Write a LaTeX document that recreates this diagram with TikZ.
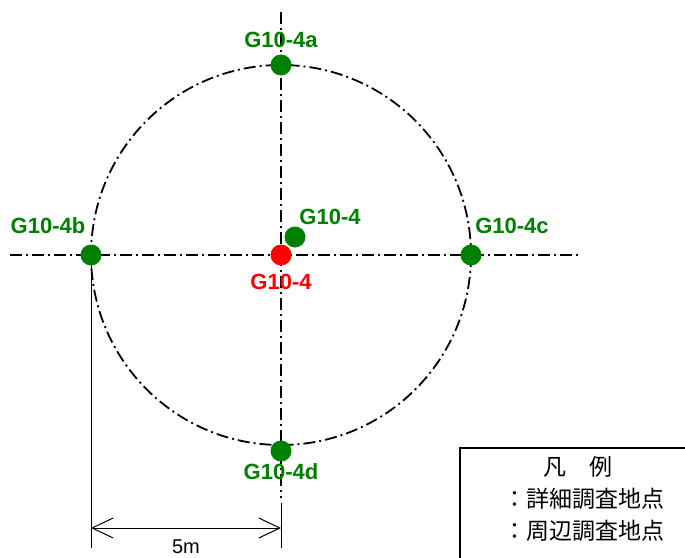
\documentclass[tikz,border=0pt]{standalone}
\usepackage{fontspec}
\setmainfont{Liberation Sans}
\newfontfamily\cjk{Noto Sans CJK JP}
\usetikzlibrary{arrows.meta}
\definecolor{dgreen}{RGB}{0,128,0}
\tikzset{
  axisline/.style={line width=1.8pt, dash pattern=on 12pt off 4pt on 2pt off 4pt},
  gdot/.style={circle, fill=dgreen, minimum size=21pt, inner sep=0pt},
  rdot/.style={circle, fill=red, minimum size=21pt, inner sep=0pt},
  glabel/.style={text=dgreen, font=\fontsize{22}{25}\selectfont\bfseries, inner sep=0pt},
  rlabel/.style={text=red, font=\fontsize{22}{25}\selectfont\bfseries, inner sep=0pt},
  extline/.style={line width=1pt},
  dimline/.style={line width=1pt, {Straight Barb[length=21pt,width=20pt]}-{Straight Barb[length=21pt,width=20pt]}},
  legtext/.style={font=\cjk\fontsize{23}{27}\selectfont, inner sep=0pt, anchor=west}
}
\begin{document}
\begin{tikzpicture}[x=1pt,y=-1pt]
\useasboundingbox (0,0) rectangle (685,557);
% axes
\coordinate (vtop) at (281,12);
\coordinate (vbot) at (281,498);
\coordinate (hl) at (10,255);
\coordinate (hr) at (578,255);
\coordinate (c) at (281,255);
\draw[axisline] (vtop) -- (vbot);
\draw[axisline] (hl) -- (hr);
\draw[axisline] (c) circle[radius=190];
% extension lines
\coordinate (el1) at (91,262);
\coordinate (el2) at (91,548);
\coordinate (er1) at (281,503);
\coordinate (er2) at (281,548);
\draw[extline] (el1) -- (el2);
\draw[extline] (er1) -- (er2);
\coordinate (da) at (91,528);
\coordinate (db) at (281,528);
\draw[dimline] (da) -- (db);
\node[inner sep=0pt, font=\fontsize{20}{24}\selectfont] (dim) at (186,547) {5m};
% dots
\node[gdot] (a) at (281,65) {};
\node[gdot] (b) at (91,255) {};
\node[gdot] (cc) at (471,255) {};
\node[gdot] (d) at (281,451) {};
\node[gdot] (g) at (295,237) {};
\node[rdot] (r) at (281,255) {};
% labels
\node[glabel] (la) at (281,40) {G10-4a};
\node[glabel] (lb) at (48,226) {G10-4b};
\node[glabel] (lc) at (512,226) {G10-4c};
\node[glabel] (ld) at (281,472) {G10-4d};
\node[glabel] (lg) at (330,217) {G10-4};
\node[rlabel] (lr) at (281,282) {G10-4};
% legend
\draw[line width=1.6pt] (460,560) -- (460,448) -- (688,448);
\node[font=\cjk\fontsize{23}{27}\selectfont, inner sep=0pt] (lt) at (578,467) {凡\hspace{1em}例};
\node[legtext] (l1) at (503,499) {：詳細調査地点};
\node[legtext] (l2) at (503,531) {：周辺調査地点};
\end{tikzpicture}
\end{document}
